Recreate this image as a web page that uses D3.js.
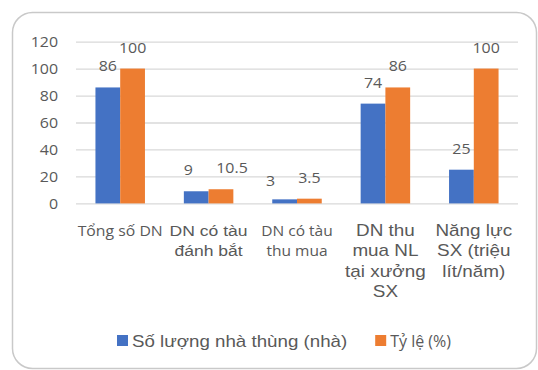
<!DOCTYPE html>
<html>
<head>
<meta charset="utf-8">
<script src="https://cdn.jsdelivr.net/npm/d3@7"></script>
<style>
  html, body { margin: 0; padding: 0; background: #fff; }
  svg { display: block; }
</style>
</head>
<body>
<svg id="chart" width="538" height="370"></svg>
<script>
// ---- data ----
const categories = [
  ["Tổng số DN"],
  ["DN có tàu", "đánh bắt"],
  ["DN có tàu", "thu mua"],
  ["DN thu", "mua NL", "tại xưởng", "SX"],
  ["Năng lực", "SX (triệu", "lít/năm)"]
];
const seriesNames = ["Số lượng nhà thùng (nhà)", "Tỷ lệ (%)"];
const soLuong = [86, 9, 3, 74, 25];
const tyLe = [100, 10.5, 3.5, 86, 100];
const yTicks = [0, 20, 40, 60, 80, 100, 120];

// ---- styling ----
const colors = ["#4472C4", "#ED7D31"];
const textColor = "#595959";
const gridColor = "#d9d9d9";
const SANS_UI = "'Open Sans', 'Noto Sans', sans-serif";
const SANS_AR = "'Liberation Sans', Arial, sans-serif";
// per-category label font
const catFont = [
  { family: SANS_UI, size: 14, sx: 1.13 },
  { family: SANS_AR, size: 15, sx: 1.17 },
  { family: SANS_UI, size: 14, sx: 1.11 },
  { family: SANS_AR, size: 16, sx: 1.18 },
  { family: SANS_AR, size: 16, sx: 1.18 }
];
// small hand offsets for crowded value labels [dx, dy]
const labelNudge = [
  [[0, 0], [-8, 0], [-14, 3], [0, 0], [0, 0]],
  [[0, 0], [11, 0], [0, 0], [0, 0], [0, 0]]
];

const svg = d3.select("#chart");

// chart frame
svg.append("rect")
  .attr("x", 12.5).attr("y", 12.5)
  .attr("width", 524).attr("height", 356)
  .attr("rx", 20).attr("ry", 20)
  .attr("fill", "#fff")
  .attr("stroke", "#c9c9c9")
  .attr("stroke-width", 1.5);

const plot = { left: 76, right: 518, top: 41.6, bottom: 203.4 };

const y = d3.scaleLinear().domain([0, 120]).range([plot.bottom, plot.top]);
const x0 = d3.scaleBand()
  .domain(d3.range(categories.length))
  .range([plot.left, plot.right])
  .paddingInner(0.44)
  .paddingOuter(0.22);
const x1 = d3.scaleBand().domain([0, 1]).range([0, x0.bandwidth()]);

// horizontal gridlines + y tick labels
const tickSx = 1.1;
const numSize = "14.5px";
const yAxis = svg.append("g")
  .attr("transform", `translate(${plot.left},0)`)
  .call(d3.axisLeft(y)
    .tickValues(yTicks)
    .tickSize(-(plot.right - plot.left))
    .tickPadding(0));
yAxis.select(".domain").remove();
yAxis.selectAll(".tick line").attr("stroke", gridColor).attr("stroke-width", 1.3);
yAxis.selectAll(".tick text")
  .attr("x", -18 / tickSx)
  .attr("dy", "0.36em")
  .attr("transform", `scale(${tickSx},1)`)
  .attr("fill", textColor)
  .style("font-family", SANS_UI)
  .style("font-size", numSize);

// bars
const series = [soLuong, tyLe];
const groups = svg.append("g").selectAll("g")
  .data(categories.map((c, i) => i))
  .join("g")
  .attr("transform", i => `translate(${x0(i)},0)`);

groups.selectAll("rect")
  .data(i => series.map((s, k) => ({ k, i, v: s[i] })))
  .join("rect")
  .attr("x", d => x1(d.k))
  .attr("y", d => y(d.v))
  .attr("width", x1.bandwidth())
  .attr("height", d => y(0) - y(d.v))
  .attr("fill", d => colors[d.k]);

// value labels
const fmt = v => String(v);
groups.selectAll("text.val")
  .data(i => series.map((s, k) => ({ k, i, v: s[i] })))
  .join("text")
  .attr("class", "val")
  .attr("transform", d => {
    const n = labelNudge[d.k][d.i];
    const cx = x1(d.k) + x1.bandwidth() / 2 + n[0];
    const cy = y(d.v) - 16 + n[1];
    return `translate(${cx},${cy}) scale(${tickSx},1)`;
  })
  .attr("text-anchor", "middle")
  .attr("fill", textColor)
  .style("font-family", SANS_UI)
  .style("font-size", numSize)
  .text(d => fmt(d.v));

// category labels (wrapped lines)
const catG = svg.append("g");
categories.forEach((lines, i) => {
  const f = catFont[i];
  const cx = x0(i) + x0.bandwidth() / 2;
  lines.forEach((line, j) => {
    catG.append("text")
      .attr("transform", `translate(${cx},${236 + j * 20.3}) scale(${f.sx},1)`)
      .attr("text-anchor", "middle")
      .attr("fill", textColor)
      .style("font-family", f.family)
      .style("font-size", f.size + "px")
      .text(line);
  });
});

// legend
const legend = svg.append("g");
const legendFonts = [
  { family: SANS_AR, size: 16, sx: 1.17 },
  { family: SANS_UI, size: 16, sx: 1.0 }
];
let lx = 117;
seriesNames.forEach((name, k) => {
  const f = legendFonts[k];
  legend.append("rect")
    .attr("x", lx).attr("y", 335)
    .attr("width", 11).attr("height", 11)
    .attr("fill", colors[k]);
  const t = legend.append("text")
    .attr("transform", `translate(${lx + 15},346.5) scale(${f.sx},1)`)
    .attr("fill", textColor)
    .style("font-family", f.family)
    .style("font-size", f.size + "px")
    .text(name);
  lx += 15 + t.node().getComputedTextLength() * f.sx + 28;
});
</script>
</body>
</html>
